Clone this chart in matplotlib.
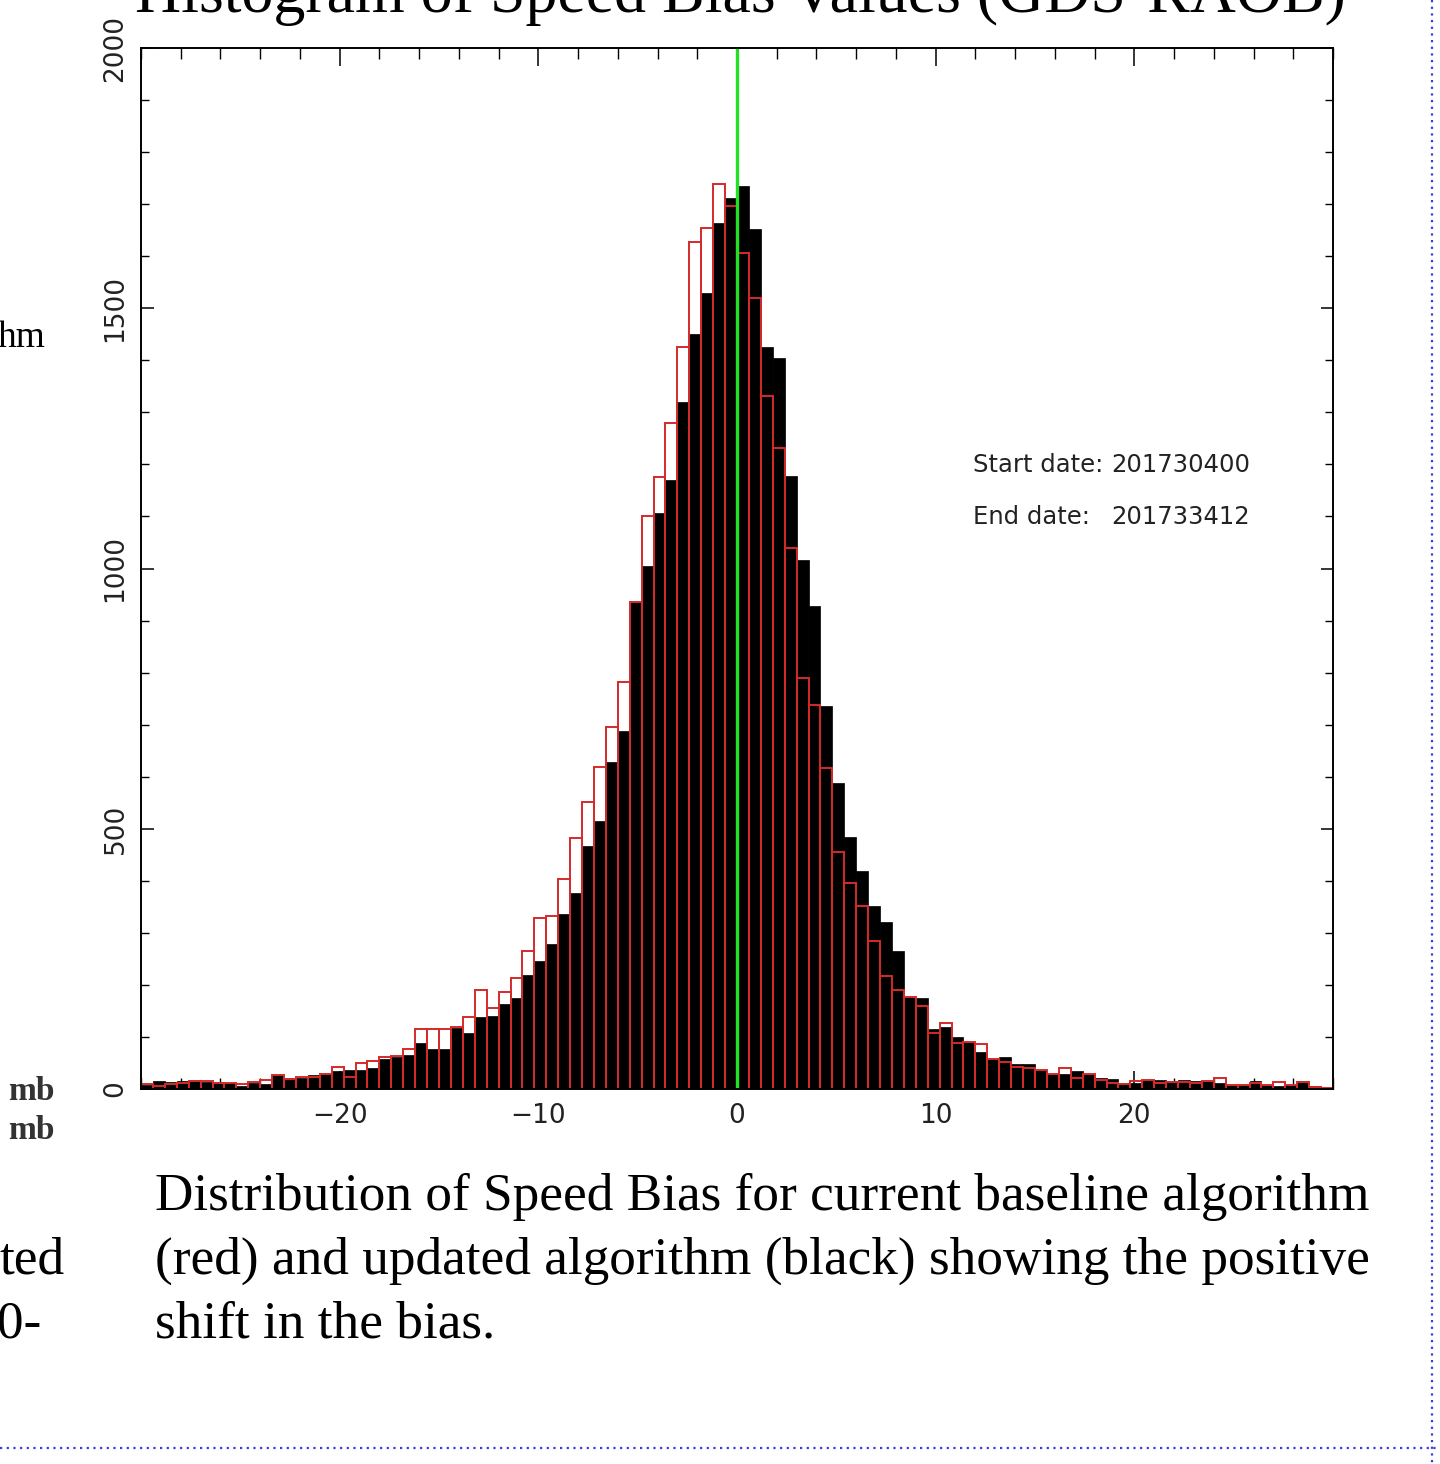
import numpy as np
import matplotlib
matplotlib.use("Agg")
import matplotlib.pyplot as plt
from matplotlib.lines import Line2D
from matplotlib.ticker import MultipleLocator

# histogram bins: 100 bins of 0.6 from -30 to 30
bin_lo = -30.0
bin_width = 0.6

# updated algorithm (black, filled)
updated_counts = [
    8, 15, 13, 15, 18, 13, 13, 11, 6, 11,
    10, 26, 21, 21, 26, 29, 34, 37, 37, 40,
    57, 62, 65, 88, 76, 76, 118, 108, 139, 140,
    163, 175, 219, 246, 278, 336, 376, 467, 515, 629,
    688, 936, 1004, 1107, 1170, 1319, 1450, 1529, 1663, 1711,
    1735, 1652, 1426, 1404, 1178, 1016, 927, 736, 587, 484,
    419, 352, 321, 266, 177, 174, 115, 120, 99, 91,
    72, 57, 61, 48, 48, 37, 28, 29, 34, 28,
    21, 20, 11, 11, 18, 18, 15, 18, 15, 15,
    11, 8, 8, 15, 8, 6, 8, 15, 5, 2,
]

# current baseline algorithm (red outline)
baseline_counts = [
    10, 6, 10, 11, 15, 15, 11, 11, 10, 13,
    17, 26, 19, 23, 23, 29, 42, 24, 49, 53,
    62, 63, 76, 115, 115, 115, 120, 139, 190, 155,
    186, 213, 266, 328, 332, 403, 482, 552, 619, 696,
    782, 936, 1100, 1176, 1280, 1426, 1627, 1654, 1739, 1696,
    1607, 1519, 1331, 1231, 1039, 789, 738, 616, 456, 396,
    352, 285, 218, 190, 177, 159, 107, 127, 88, 91,
    86, 57, 52, 43, 41, 37, 28, 40, 21, 28,
    18, 11, 10, 15, 18, 11, 13, 13, 11, 15,
    21, 8, 8, 11, 8, 13, 8, 13, 4, 2,
]

x_ticks = [-20, -10, 0, 10, 20]
y_ticks = [0, 500, 1000, 1500, 2000]
start_date = "201730400"
end_date = "201733412"

title = "Histogram of Speed Bias Values (GDS-RAOB)"
caption = ["Distribution of Speed Bias for current baseline algorithm",
           "(red) and updated algorithm (black) showing the positive",
           "shift in the bias."]

W, H = 1440, 1464
fig = plt.figure(figsize=(W / 100, H / 100), dpi=100)
fig.patch.set_facecolor("white")


def fx(px):
    return px / W


def fy(py):
    return 1 - py / H


ax = fig.add_axes([fx(141), fy(1089), fx(1333) - fx(141), fy(48) - fy(1089)])

left_edges = bin_lo + bin_width * np.arange(len(updated_counts))
ax.bar(left_edges, updated_counts, width=bin_width, align="edge",
       color="black", edgecolor="black", linewidth=0.5, zorder=2)
ax.bar(left_edges, baseline_counts, width=bin_width, align="edge",
       facecolor="none", edgecolor="#d42a2a", linewidth=1.4, zorder=3)
ax.axvline(0, color="#22e022", linewidth=2.4, zorder=4)

ax.set_xlim(-30, 30)
ax.set_ylim(0, 2000)
ax.set_xticks(x_ticks)
ax.set_xticklabels(["\u2212%d" % -v if v < 0 else str(v) for v in x_ticks])
ax.set_yticks(y_ticks)
ax.set_yticklabels([str(v) for v in y_ticks], rotation=90, va="center")
ax.xaxis.set_minor_locator(MultipleLocator(2))
ax.yaxis.set_minor_locator(MultipleLocator(100))
ax.tick_params(axis="x", which="major", direction="in", length=13, width=1.1,
               top=True, bottom=True, pad=10, labelsize=19, labelcolor="#222222")
ax.tick_params(axis="x", which="minor", direction="in", length=8, width=1.0,
               top=True, bottom=True)
ax.tick_params(axis="y", which="major", direction="in", length=9, width=1.1,
               left=True, right=True, pad=9, labelsize=19, labelcolor="#222222")
ax.tick_params(axis="y", which="minor", direction="in", length=6, width=1.0,
               left=True, right=True)
for s in ax.spines.values():
    s.set_linewidth(1.4)
    s.set_zorder(5)

# date annotation
ax.text(11.88, 1199, "Start date:", fontsize=17.5, va="center", ha="left", color="#222222")
ax.text(18.82, 1199, start_date, fontsize=17.5, va="center", ha="left", color="#222222")
ax.text(11.88, 1099, "End date:", fontsize=17.5, va="center", ha="left", color="#222222")
ax.text(18.82, 1099, end_date, fontsize=17.5, va="center", ha="left", color="#222222")

serif = "Liberation Serif"
# title (mostly cut off at the top of the slide)
fig.text(fx(135), fy(12), title, family=serif, fontsize=46, va="baseline", ha="left")

# caption below the chart
for i, line in enumerate(caption):
    fig.text(fx(155), fy(1210 + 64 * i), line, family=serif, fontsize=38.3,
             va="baseline", ha="left")

# fragments of neighbouring slide content on the left
fig.text(fx(-2), fy(347), "hm", family=serif, fontsize=27, va="baseline", ha="left")
fig.text(fx(8), fy(1100), "mb", family=serif, fontsize=24, va="baseline", ha="left",
         color="#333333", weight="bold")
fig.text(fx(8), fy(1139), "mb", family=serif, fontsize=24, va="baseline", ha="left",
         color="#333333", weight="bold")
fig.text(fx(0), fy(1274), "ted", family=serif, fontsize=38.3, va="baseline", ha="left")
fig.text(fx(-3), fy(1338), "0-", family=serif, fontsize=38.3, va="baseline", ha="left")

# dotted slide frame
fig.add_artist(Line2D([fx(1432), fx(1432)], [fy(0), fy(1464)], transform=fig.transFigure,
                      color="#3b3be0", linestyle=(0, (1, 2)), linewidth=1.6))
fig.add_artist(Line2D([fx(0), fx(1440)], [fy(1448), fy(1448)], transform=fig.transFigure,
                      color="#3b3be0", linestyle=(0, (1, 2)), linewidth=1.6))

fig.savefig("out.png", dpi=100)
